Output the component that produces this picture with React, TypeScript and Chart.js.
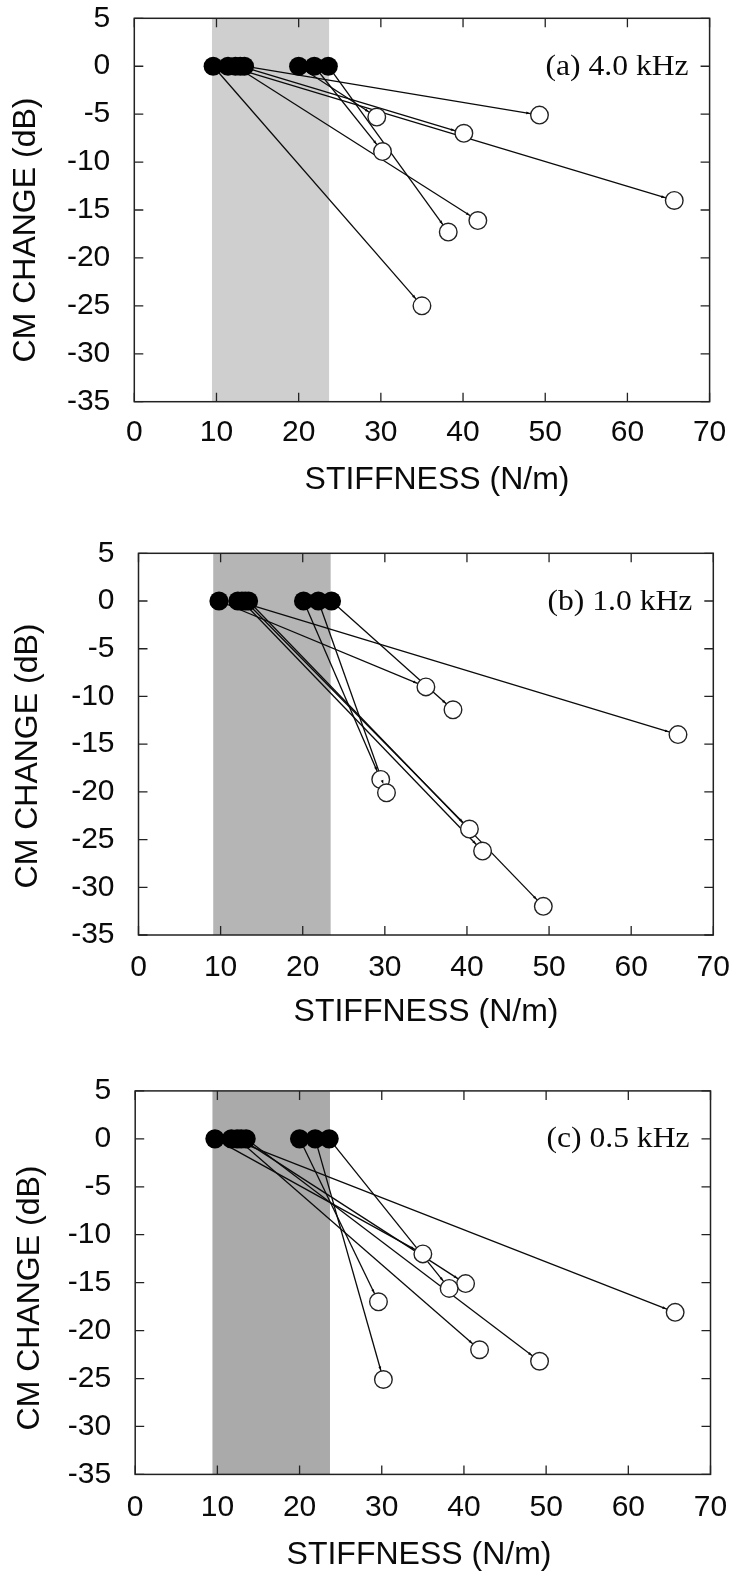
import React, { useEffect, useRef } from "react";
import { Chart, registerables } from "chart.js";

Chart.register(...registerables);

// ---------- data ----------
const xTickValues = [0, 10, 20, 30, 40, 50, 60, 70];
const yTickValues = [-35, -30, -25, -20, -15, -10, -5, 0, 5];
const panelLabels = ["(a) 4.0 kHz", "(b) 1.0 kHz", "(c) 0.5 kHz"];
const xAxisTitle = "STIFFNESS (N/m)";
const yAxisTitle = "CM CHANGE (dB)";

// stiffness before (filled) and after (open), CM change at each frequency
const beforeX4k = [9.6, 11.4, 12.3, 12.9, 13.4, 20.0, 21.9, 23.6];
const beforeY4k = [0, 0, 0, 0, 0, 0, 0, 0];
const afterX4k = [35.0, 65.7, 41.8, 40.1, 49.3, 29.5, 30.2, 38.2];
const afterY4k = [-25.0, -14.0, -16.1, -7.0, -5.1, -5.3, -8.9, -17.3];

const beforeX1k = [9.8, 12.1, 12.6, 13.0, 13.4, 20.1, 21.9, 23.5];
const beforeY1k = [0, 0, 0, 0, 0, 0, 0, 0];
const afterX1k = [35.0, 65.7, 41.9, 40.3, 49.3, 29.5, 30.2, 38.3];
const afterY1k = [-9.0, -14.0, -26.2, -23.9, -32.0, -18.7, -20.1, -11.4];

const beforeX05k = [9.7, 11.7, 12.4, 12.9, 13.5, 20.0, 21.9, 23.6];
const beforeY05k = [0, 0, 0, 0, 0, 0, 0, 0];
const afterX05k = [35.0, 65.7, 41.9, 40.2, 49.2, 29.6, 30.2, 38.2];
const afterY05k = [-12.0, -18.1, -22.0, -15.1, -23.2, -17.0, -25.1, -15.6];

// shaded stiffness range (N/m)
const shade4k = [9.45, 23.7];
const shade1k = [9.1, 23.4];
const shade05k = [9.4, 23.7];

// ---------- layout / style ----------
const SANS = '"Liberation Sans", Arial, Helvetica, sans-serif';
const SERIF = '"Liberation Serif", "Times New Roman", serif';
const TITLE_SIZE = 32;
const TICK_SIZE = 30;
const INK = "#0a0a0a";
const OPEN_R = 8.8;

type PanelCfg = {
  label: string;
  beforeX: number[];
  beforeY: number[];
  afterX: number[];
  afterY: number[];
  shade: number[];
  shadeColor: string;
  top: number;
  h: number;
  plotTop: number;
  plotBottom: number;
  plotLeft: number;
  plotRight: number;
  tickPad: number;
  xTitlePos: number[]; // canvas-relative centre
  yTitlePos: number[];
};

const panels: PanelCfg[] = [
  {
    label: panelLabels[0],
    beforeX: beforeX4k, beforeY: beforeY4k, afterX: afterX4k, afterY: afterY4k,
    shade: shade4k, shadeColor: "#cfcfcf",
    top: 0, h: 525, plotTop: 18.3, plotBottom: 401.7, plotLeft: 134.3, plotRight: 709.6,
    tickPad: 13, xTitlePos: [437, 480], yTitlePos: [26, 230],
  },
  {
    label: panelLabels[1],
    beforeX: beforeX1k, beforeY: beforeY1k, afterX: afterX1k, afterY: afterY1k,
    shade: shade1k, shadeColor: "#b5b5b5",
    top: 525, h: 525, plotTop: 28.3, plotBottom: 410, plotLeft: 138.5, plotRight: 713.3,
    tickPad: 15, xTitlePos: [426, 487], yTitlePos: [28, 231],
  },
  {
    label: panelLabels[2],
    beforeX: beforeX05k, beforeY: beforeY05k, afterX: afterX05k, afterY: afterY05k,
    shade: shade05k, shadeColor: "#aaaaaa",
    top: 1050, h: 526, plotTop: 40.9, plotBottom: 424.4, plotLeft: 135.2, plotRight: 710.5,
    tickPad: 15, xTitlePos: [419, 505], yTitlePos: [30, 248],
  },
];

function Panel({ cfg }: { cfg: PanelCfg }) {
  const ref = useRef<HTMLCanvasElement>(null);

  useEffect(() => {
    const canvas = ref.current;
    if (!canvas) return;

    const xAxisH = cfg.h - cfg.plotBottom;
    const yAxisW = cfg.plotLeft - 8;

    const lineSets: any[] = cfg.beforeX.map((bx, i) => ({
      data: [
        { x: bx, y: cfg.beforeY[i] },
        { x: cfg.afterX[i], y: cfg.afterY[i] },
      ],
      showLine: true,
      borderColor: INK,
      borderWidth: 1.3,
      pointRadius: 0,
      order: 3,
    }));

    const openSet = {
      data: cfg.afterX.map((x, i) => ({ x, y: cfg.afterY[i] })),
      pointRadius: OPEN_R,
      pointBackgroundColor: "#ffffff",
      pointBorderColor: "#222",
      pointBorderWidth: 1.4,
      showLine: false,
      order: 2,
    };

    const filledSet = {
      data: cfg.beforeX.map((x, i) => ({ x, y: cfg.beforeY[i] })),
      pointRadius: 9.6,
      pointBackgroundColor: "#000000",
      pointBorderColor: "#000000",
      pointBorderWidth: 0,
      showLine: false,
      order: 1,
    };

    const framePlugin = {
      id: "frameTicks",
      beforeDatasetsDraw(chart: any) {
        const { ctx, chartArea, scales } = chart;
        const { left, right, top, bottom } = chartArea;
        const xs = scales.x;
        const ys = scales.y;
        ctx.save();
        // shaded band
        const xa = xs.getPixelForValue(cfg.shade[0]);
        const xb = xs.getPixelForValue(cfg.shade[1]);
        ctx.fillStyle = cfg.shadeColor;
        ctx.fillRect(xa, top, xb - xa, bottom - top);
        // frame
        ctx.strokeStyle = "#222";
        ctx.lineWidth = 1.5;
        ctx.strokeRect(left, top, right - left, bottom - top);
        // inward ticks
        const tl = 9;
        ctx.lineWidth = 1.3;
        ctx.beginPath();
        xTickValues.forEach((v) => {
          const px = xs.getPixelForValue(v);
          ctx.moveTo(px, bottom);
          ctx.lineTo(px, bottom - tl);
          ctx.moveTo(px, top);
          ctx.lineTo(px, top + tl);
        });
        yTickValues.forEach((v) => {
          const py = ys.getPixelForValue(v);
          ctx.moveTo(left, py);
          ctx.lineTo(left + tl, py);
          ctx.moveTo(right, py);
          ctx.lineTo(right - tl, py);
        });
        ctx.stroke();
        ctx.restore();
      },
      afterDatasetsDraw(chart: any) {
        const { ctx, chartArea, scales } = chart;
        const xs = scales.x;
        const ys = scales.y;
        ctx.save();
        // tiny arrow heads where each line meets its open circle
        ctx.fillStyle = INK;
        cfg.beforeX.forEach((bx, i) => {
          const x0 = xs.getPixelForValue(bx);
          const y0 = ys.getPixelForValue(cfg.beforeY[i]);
          const x1 = xs.getPixelForValue(cfg.afterX[i]);
          const y1 = ys.getPixelForValue(cfg.afterY[i]);
          const d = Math.hypot(x1 - x0, y1 - y0);
          const ux = (x1 - x0) / d;
          const uy = (y1 - y0) / d;
          const tx = x1 - ux * (OPEN_R + 0.6);
          const ty = y1 - uy * (OPEN_R + 0.6);
          const len = 4;
          const w = 1.4;
          ctx.beginPath();
          ctx.moveTo(tx, ty);
          ctx.lineTo(tx - ux * len - uy * w, ty - uy * len + ux * w);
          ctx.lineTo(tx - ux * len + uy * w, ty - uy * len - ux * w);
          ctx.closePath();
          ctx.fill();
        });
        // panel label
        const py = ys.getPixelForValue(0) + 1;
        ctx.font = `29px ${SERIF}`;
        ctx.fillStyle = INK;
        ctx.textAlign = "right";
        ctx.textBaseline = "middle";
        ctx.save();
        ctx.translate(chartArea.right - 21, py);
        ctx.scale(1.09, 1);
        ctx.fillText(cfg.label, 0, 0);
        ctx.restore();
        ctx.restore();
      },
      afterDraw(chart: any) {
        const { ctx } = chart;
        ctx.save();
        ctx.font = `${TITLE_SIZE}px ${SANS}`;
        ctx.fillStyle = INK;
        ctx.textAlign = "center";
        ctx.textBaseline = "middle";
        ctx.fillText(xAxisTitle, cfg.xTitlePos[0], cfg.xTitlePos[1]);
        ctx.translate(cfg.yTitlePos[0], cfg.yTitlePos[1]);
        ctx.rotate(-Math.PI / 2);
        ctx.fillText(yAxisTitle, 0, 0);
        ctx.restore();
      },
    };

    const chart = new Chart(canvas, {
      type: "scatter",
      data: { datasets: [...lineSets, openSet, filledSet] },
      options: {
        responsive: false,
        animation: false,
        devicePixelRatio: 1,
        layout: {
          padding: {
            left: 8,
            top: cfg.plotTop,
            right: 731 - cfg.plotRight,
            bottom: 0,
          },
        },
        plugins: {
          legend: { display: false },
          tooltip: { enabled: false },
        },
        elements: { line: { tension: 0 } },
        scales: {
          x: {
            type: "linear",
            min: 0,
            max: 70,
            afterBuildTicks: (s: any) => {
              s.ticks = xTickValues.map((v) => ({ value: v }));
            },
            grid: { display: false, drawTicks: false },
            border: { display: false },
            ticks: {
              font: { family: SANS, size: TICK_SIZE },
              color: INK,
              padding: cfg.tickPad,
              maxRotation: 0,
              autoSkip: false,
              callback: (v: any) => String(v),
            },
            title: { display: false },
            afterFit: (s: any) => {
              s.height = xAxisH;
              s.paddingLeft = 0;
              s.paddingRight = 0;
            },
          },
          y: {
            type: "linear",
            min: -35,
            max: 5,
            afterBuildTicks: (s: any) => {
              s.ticks = yTickValues.map((v) => ({ value: v }));
            },
            grid: { display: false, drawTicks: false },
            border: { display: false },
            ticks: {
              font: { family: SANS, size: TICK_SIZE },
              color: INK,
              padding: 24,
              autoSkip: false,
              callback: (v: any) => String(v),
            },
            title: { display: false },
            afterFit: (s: any) => {
              s.width = yAxisW;
              s.paddingTop = 0;
              s.paddingBottom = 0;
            },
          },
        },
      } as any,
      plugins: [framePlugin],
    });

    return () => chart.destroy();
  }, [cfg]);

  return (
    <canvas
      ref={ref}
      width={731}
      height={cfg.h}
      style={{ position: "absolute", left: 0, top: cfg.top, width: 731, height: cfg.h }}
    />
  );
}

export default function App() {
  return (
    <div
      style={{
        position: "absolute",
        left: 0,
        top: 0,
        width: 731,
        height: 1576,
        background: "#ffffff",
        overflow: "hidden",
      }}
    >
      {panels.map((p, i) => (
        <Panel key={i} cfg={p} />
      ))}
    </div>
  );
}
